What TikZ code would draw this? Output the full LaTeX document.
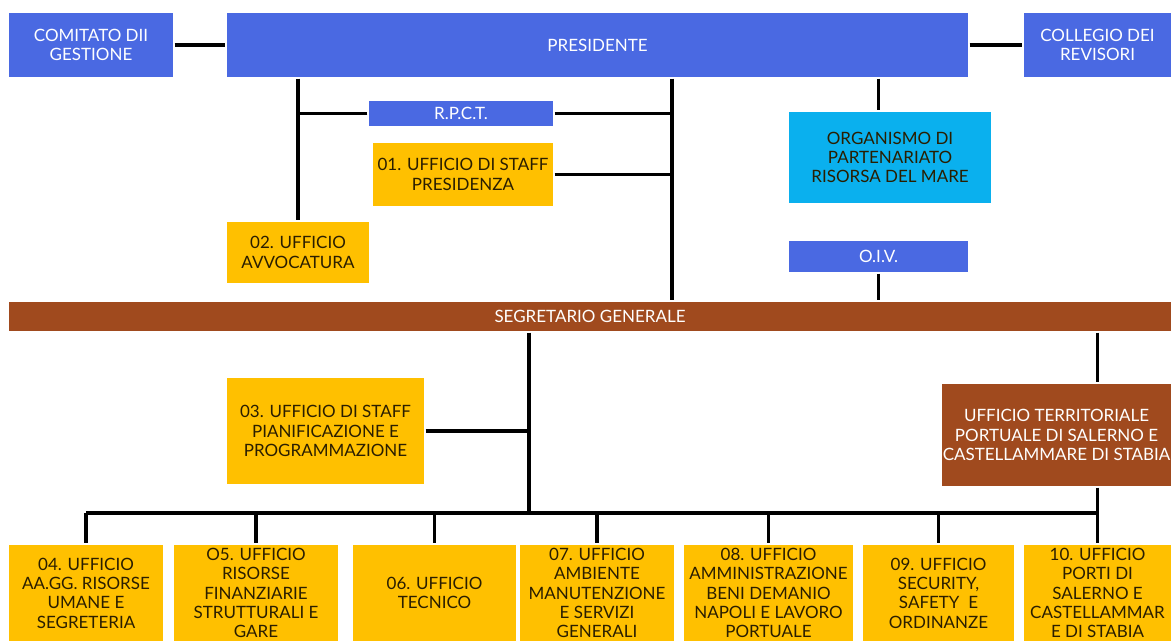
\documentclass[tikz,border=0pt]{standalone}
\usepackage{fontspec}
\setmainfont{Lato}
\definecolor{presblue}{HTML}{4A69E2}
\definecolor{offyellow}{HTML}{FFC000}
\definecolor{segbrown}{HTML}{A04A1E}
\definecolor{partcyan}{HTML}{0AB0EE}
\definecolor{darktext}{HTML}{2A1E00}

\begin{document}
\begin{tikzpicture}[x=0.3mm,y=-0.3mm,line width=2.7pt,font=\fontsize{14.5}{16.5}\selectfont,
    box/.style 2 args={rectangle,inner sep=0pt,align=center,minimum width=#1*0.3mm,minimum height=#2*0.3mm},
    bluebox/.style 2 args={box={#1}{#2},fill=presblue,text=white},
    cyanbox/.style 2 args={box={#1}{#2},fill=partcyan,text=darktext},
    brownbox/.style 2 args={box={#1}{#2},fill=segbrown,text=white},
    yellowbox/.style 2 args={box={#1}{#2},fill=offyellow,text=darktext}]
    \useasboundingbox (0,0) rectangle (1171,641);
    \node[bluebox={164}{64}] (comitato) at (91,45) {COMITATO DII\\GESTIONE};
    \node[bluebox={741}{64}] (presidente) at (597.5,45) {PRESIDENTE};
    \node[bluebox={147}{64}] (collegio) at (1097.5,45) {COLLEGIO DEI\\REVISORI};
    \node[bluebox={184}{25}] (rpct) at (461,113.5) {R.P.C.T.};
    \node[yellowbox={180}{63}] (staffpres) at (463,174.5) {01. UFFICIO DI STAFF\\PRESIDENZA};
    \node[yellowbox={142}{61}] (avvocatura) at (298,252.5) {02. UFFICIO\\AVVOCATURA};
    \node[cyanbox={202}{91}] (partenariato) at (890,157.5) {ORGANISMO DI\\PARTENARIATO\\RISORSA DEL MARE};
    \node[bluebox={179}{31}] (oiv) at (878.5,256.5) {O.I.V.};
    \node[brownbox={1162}{29}] (segretario) at (590,316.5) {SEGRETARIO GENERALE};
    \node[yellowbox={197}{106}] (pianif) at (325.5,431) {03. UFFICIO DI STAFF\\PIANIFICAZIONE E\\PROGRAMMAZIONE};
    \node[brownbox={229}{102}] (territoriale) at (1056.5,435) {UFFICIO TERRITORIALE\\PORTUALE DI SALERNO E\\CASTELLAMMARE DI STABIA};
    \node[yellowbox={154}{96}] (u04) at (86,593) {04. UFFICIO\\AA.GG. RISORSE\\UMANE E\\SEGRETERIA};
    \node[yellowbox={164}{96}] (u05) at (256,593) {O5. UFFICIO\\RISORSE\\FINANZIARIE\\STRUTTURALI E\\GARE};
    \node[yellowbox={163}{96}] (u06) at (434.5,593) {06. UFFICIO\\TECNICO};
    \node[yellowbox={154}{96}] (u07) at (597,593) {07. UFFICIO\\AMBIENTE\\MANUTENZIONE\\E SERVIZI\\GENERALI};
    \node[yellowbox={169}{96}] (u08) at (768.5,593) {08. UFFICIO\\AMMINISTRAZIONE\\BENI DEMANIO\\NAPOLI E LAVORO\\PORTUALE};
    \node[yellowbox={151}{96}] (u09) at (938.5,593) {09. UFFICIO\\SECURITY,\\SAFETY~ E\\ORDINANZE};
    \node[yellowbox={147}{96}] (u10) at (1097.5,593) {10. UFFICIO\\PORTI DI\\SALERNO E\\CASTELLAMMAR\\E DI STABIA};
    \coordinate (spine) at (672,200);
    \coordinate (hub) at (529,513);
    \draw (comitato) -- (presidente);
    \draw (presidente) -- (collegio);
    \draw (presidente.south -| avvocatura.north) -- (avvocatura.north);
    \draw (rpct.west) -- (rpct.west -| avvocatura.north);
    \draw (presidente.south -| spine) -- (segretario.north -| spine);
    \draw (rpct.east) -- (rpct.east -| spine);
    \draw (staffpres.east) -- (staffpres.east -| spine);
    \draw (presidente.south -| oiv.north) -- (partenariato.north -| oiv.north);
    \draw (oiv.south) -- (oiv.south |- segretario.north);
    \draw (segretario.south -| hub) -- (hub);
    \draw (pianif.east) -- (pianif.east -| hub);
    \draw (segretario.south -| u10.north) -- (territoriale.north -| u10.north);
    \draw (territoriale.south -| u10.north) -- (u10.north);
    \draw (u04.north |- hub) -- (u10.north |- hub);
    \foreach \u in {u04,u05,u06,u07,u08,u09}
        \draw (\u.north |- hub) -- (\u.north);
\end{tikzpicture}
\end{document}
